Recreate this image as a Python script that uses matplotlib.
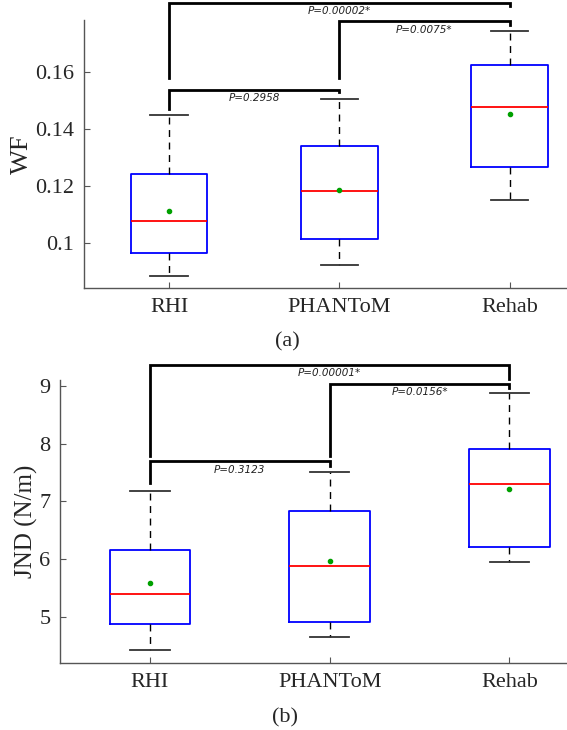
import matplotlib
matplotlib.use("Agg")
import matplotlib.pyplot as plt

groups = ["RHI", "PHANToM", "Rehab"]
positions = [1, 2, 3]

# (a) WF
wf_low = [0.0885, 0.0922, 0.1152]
wf_q1 = [0.0967, 0.1014, 0.1269]
wf_med = [0.1080, 0.1184, 0.1480]
wf_q3 = [0.1245, 0.1342, 0.1627]
wf_high = [0.1451, 0.1508, 0.1746]
wf_mean = [0.1115, 0.1186, 0.1455]
wf_ticks = [0.1, 0.12, 0.14, 0.16]
wf_ticklabels = ["0.1", "0.12", "0.14", "0.16"]
# brackets: (from, to, bar height, left leg end, right leg end, text)
wf_brackets = [
    (1, 2, 0.1539, 0.1471, 0.1532, "P=0.2958"),
    (2, 3, 0.1779, 0.1579, 0.1765, "P=0.0075*"),
    (1, 3, 0.1845, 0.1579, 0.1833, "P=0.00002*"),
]

# (b) JND
jnd_low = [4.43, 4.65, 5.95]
jnd_q1 = [4.87, 4.91, 6.21]
jnd_med = [5.40, 5.88, 7.30]
jnd_q3 = [6.16, 6.83, 7.90]
jnd_high = [7.17, 7.51, 8.87]
jnd_mean = [5.58, 5.96, 7.21]
jnd_ticks = [5, 6, 7, 8, 9]
jnd_ticklabels = ["5", "6", "7", "8", "9"]
jnd_brackets = [
    (1, 2, 7.69, 7.32, 7.61, "P=0.3123"),
    (2, 3, 9.03, 7.79, 8.96, "P=0.0156*"),
    (1, 3, 9.36, 7.79, 9.12, "P=0.00001*"),
]

serif = "Liberation Serif"
spine_col = "#555555"


def draw_panel(ax, low, q1, med, q3, high, mean, brackets, ylim, ticks, ticklabels,
               ylabel, ylab_x, ylab_size):
    stats = []
    for i in range(len(groups)):
        stats.append(dict(med=med[i], q1=q1[i], q3=q3[i], whislo=low[i],
                          whishi=high[i], mean=mean[i], fliers=[], label=groups[i]))
    ax.bxp(stats, positions=positions, widths=0.45, capwidths=0.22,
           showmeans=True, showfliers=False,
           boxprops=dict(color="#0000ff", linewidth=1.3),
           medianprops=dict(color="#ff0000", linewidth=1.3),
           whiskerprops=dict(color="black", linewidth=1.0, linestyle=(0, (5, 4))),
           capprops=dict(color="#333333", linewidth=1.3),
           meanprops=dict(marker="o", markerfacecolor="#00a000",
                          markeredgecolor="#00a000", markersize=3))

    for a, b, y, yl, yr, txt in brackets:
        ax.plot([a, a, b, b], [yl, y, y, yr], color="black", lw=2.0,
                clip_on=False, solid_joinstyle="miter")
        ax.annotate(txt, xy=((a + b) / 2, y), xytext=(0, -2.5),
                    textcoords="offset points", ha="center", va="top",
                    fontsize=7.5, style="italic", family="DejaVu Sans",
                    color="#222222", annotation_clip=False)

    ax.set_xlim(0.5, 3.5)
    ax.set_ylim(*ylim)
    ax.set_yticks(ticks)
    ax.set_yticklabels(ticklabels)
    ax.set_xticks(positions)
    ax.set_xticklabels(groups)
    for lab in ax.get_xticklabels() + ax.get_yticklabels():
        lab.set_fontfamily(serif)
        lab.set_fontsize(16)
        lab.set_color("#262626")
    ax.tick_params(direction="in", length=4, width=0.8, color=spine_col, pad=7)
    ax.spines["top"].set_visible(False)
    ax.spines["right"].set_visible(False)
    for s in ["left", "bottom"]:
        ax.spines[s].set_color(spine_col)
        ax.spines[s].set_linewidth(1.0)
    ax.set_ylabel(ylabel, fontfamily=serif, fontsize=ylab_size, color="#262626")
    ax.yaxis.set_label_coords(ylab_x, 0.5)


fig = plt.figure(figsize=(5.67, 7.30), dpi=100)

ax1 = fig.add_axes([0.148, 0.6055, 0.901, 0.367])
draw_panel(ax1, wf_low, wf_q1, wf_med, wf_q3, wf_high, wf_mean, wf_brackets,
           (0.0843, 0.1784), wf_ticks, wf_ticklabels, "WF", -0.10, 19)
fig.text(0.506, 1 - 342 / 730, "(a)", ha="center", va="center",
         fontfamily=serif, fontsize=16, color="#262626")

ax2 = fig.add_axes([0.106, 0.0918, 0.951, 0.3877])
draw_panel(ax2, jnd_low, jnd_q1, jnd_med, jnd_q3, jnd_high, jnd_mean, jnd_brackets,
           (4.20, 9.10), jnd_ticks, jnd_ticklabels, "JND (N/m)", -0.041, 18)
fig.text(0.503, 1 - 718 / 730, "(b)", ha="center", va="center",
         fontfamily=serif, fontsize=16, color="#262626")

fig.savefig("out.png", dpi=100)
